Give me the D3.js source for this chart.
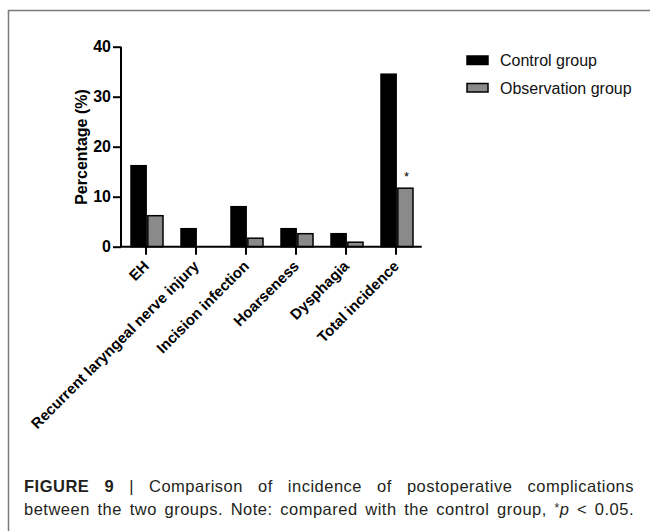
<!DOCTYPE html>
<html>
<head>
<meta charset="utf-8">
<script src="https://cdn.jsdelivr.net/npm/d3@7"></script>
<style>
  body { margin: 0; background: #fff; }
  svg { display: block; font-family: "Liberation Sans", Arial, sans-serif; }
</style>
</head>
<body>
<script>
// data
const categories = ["EH", "Recurrent laryngeal nerve injury", "Incision infection", "Hoarseness", "Dysphagia", "Total incidence"];
const groups = ["Control group", "Observation group"];
const controlValues = [16.2, 3.6, 8.0, 3.6, 2.6, 34.5];
const observationValues = [6.2, 0, 1.7, 2.6, 0.9, 11.7];
const significant = [false, false, false, false, false, true];
const yTicks = [0, 10, 20, 30, 40];

const w = 650, h = 531;
const colors = d3.scaleOrdinal().domain(groups).range(["#000000", "#8a8a8a"]);

const svg = d3.select("body").append("svg")
  .attr("width", w)
  .attr("height", h);

// frame of the figure panel
svg.append("path")
  .attr("d", "M8.5," + h + "V10.5H" + w)
  .attr("fill", "none")
  .attr("stroke", "#7a7a7a")
  .attr("stroke-width", 1.5);

const xScale = d3.scaleBand().domain(categories).range([121, 421]).padding(0);
const inner = d3.scaleBand().domain(groups).range([10, 42]).paddingInner(0.1);
const yScale = d3.scaleLinear().domain([0, 40]).range([246.7, 46.7]);

// bars
const rows = categories.map(function(c, i) {
  return [
    { cat: c, group: groups[0], value: controlValues[i] },
    { cat: c, group: groups[1], value: observationValues[i] }
  ];
});

svg.selectAll(".cat")
  .data(rows)
  .enter().append("g")
  .attr("class", "cat")
  .attr("transform", function(d) { return "translate(" + xScale(d[0].cat) + ",0)"; })
  .selectAll("rect")
  .data(function(d) { return d.filter(function(e) { return e.value > 0; }); })
  .enter().append("rect")
  .attr("x", function(d) { return inner(d.group); })
  .attr("width", inner.bandwidth())
  .attr("y", function(d) { return yScale(d.value); })
  .attr("height", function(d) { return yScale(0) - yScale(d.value); })
  .attr("fill", function(d) { return colors(d.group); })
  .attr("stroke", "#000")
  .attr("stroke-width", 1.5);

// significance marks
svg.selectAll(".star")
  .data(categories.filter(function(c, i) { return significant[i]; }))
  .enter().append("text")
  .attr("class", "star")
  .attr("x", function(c) { return xScale(c) + inner(groups[1]) + inner.bandwidth() / 2 + 1; })
  .attr("y", function(c) { return yScale(observationValues[categories.indexOf(c)]) - 7; })
  .attr("text-anchor", "middle")
  .attr("font-size", 13)
  .text("*");

// axes
const yAxis = d3.axisLeft(yScale).tickValues(yTicks).tickSize(8).tickPadding(2);
const gy = svg.append("g")
  .attr("transform", "translate(121,0)")
  .call(yAxis);
gy.select(".domain").attr("stroke-width", 2).attr("d", "M0," + yScale(0) + "V" + yScale(40));
gy.selectAll(".tick line").attr("stroke-width", 2);
gy.selectAll(".tick text")
  .attr("font-family", "Liberation Sans, Arial, sans-serif")
  .attr("font-size", 16)
  .attr("font-weight", "bold")
  .attr("fill", "#000");

const xAxis = d3.axisBottom(xScale).tickSize(8).tickFormat("");
const gx = svg.append("g")
  .attr("transform", "translate(0," + yScale(0) + ")")
  .call(xAxis);
gx.select(".domain").attr("stroke-width", 2).attr("d", "M120,0H421.7");
gx.selectAll(".tick line").attr("stroke-width", 2);

// rotated category labels
svg.selectAll(".xlabel")
  .data(categories)
  .enter().append("text")
  .attr("class", "xlabel")
  .attr("transform", function(c) {
    return "translate(" + (xScale(c) + xScale.bandwidth() / 2 + 4) + ",267) rotate(-45)";
  })
  .attr("text-anchor", "end")
  .attr("font-size", 15)
  .attr("font-weight", "bold")
  .text(function(c) { return c; });

// y-axis title
svg.append("text")
  .attr("transform", "translate(87," + 147 + ") rotate(-90)")
  .attr("text-anchor", "middle")
  .attr("font-size", 16)
  .attr("font-weight", "bold")
  .text("Percentage (%)");

// legend
const legend = svg.selectAll(".legend")
  .data(groups)
  .enter().append("g")
  .attr("class", "legend")
  .attr("transform", function(d, i) { return "translate(467," + (56 + i * 27.5) + ")"; });

legend.append("rect")
  .attr("width", 21)
  .attr("height", 8.5)
  .attr("fill", function(d) { return colors(d); })
  .attr("stroke", "#000")
  .attr("stroke-width", 1.5);

legend.append("text")
  .attr("x", 33)
  .attr("y", 10)
  .attr("font-size", 16)
  .attr("fill", "#111")
  .text(function(d) { return d; });

// caption, justified between two edges
const capLeft = 24, capRight = 634;
const captionLines = [
  { y: 492, words: [
    [["FIGURE", "bold"]], [["9", "bold"]], [["|", ""]], [["Comparison", ""]], [["of", ""]],
    [["incidence", ""]], [["of", ""]], [["postoperative", ""]], [["complications", ""]]
  ] },
  { y: 515, words: [
    [["between", ""]], [["the", ""]], [["two", ""]], [["groups.", ""]], [["Note:", ""]],
    [["compared", ""]], [["with", ""]], [["the", ""]], [["control", ""]], [["group,", ""]],
    [["*", "sup"], ["p", "italic"]], [["<", ""]], [["0.05.", ""]]
  ] }
];

captionLines.forEach(function(line) {
  const texts = line.words.map(function(segs) {
    const t = svg.append("text")
      .attr("y", line.y)
      .attr("font-size", 16.5)
      .attr("letter-spacing", 0.5)
      .attr("fill", "#231f20");
    segs.forEach(function(s) {
      const ts = t.append("tspan").text(s[0]);
      if (s[1] === "bold") ts.attr("font-weight", "bold");
      if (s[1] === "italic") ts.attr("font-style", "italic");
      if (s[1] === "sup") ts.attr("font-size", 12).attr("dy", -3);
      if (s[1] === "italic" && segs[0][1] === "sup") ts.attr("dy", 3);
    });
    return t;
  });
  const widths = texts.map(function(t) { return t.node().getComputedTextLength(); });
  const gap = (capRight - capLeft - d3.sum(widths)) / (texts.length - 1);
  let x = capLeft;
  texts.forEach(function(t, i) {
    t.attr("x", x);
    x += widths[i] + gap;
  });
});
</script>
</body>
</html>
